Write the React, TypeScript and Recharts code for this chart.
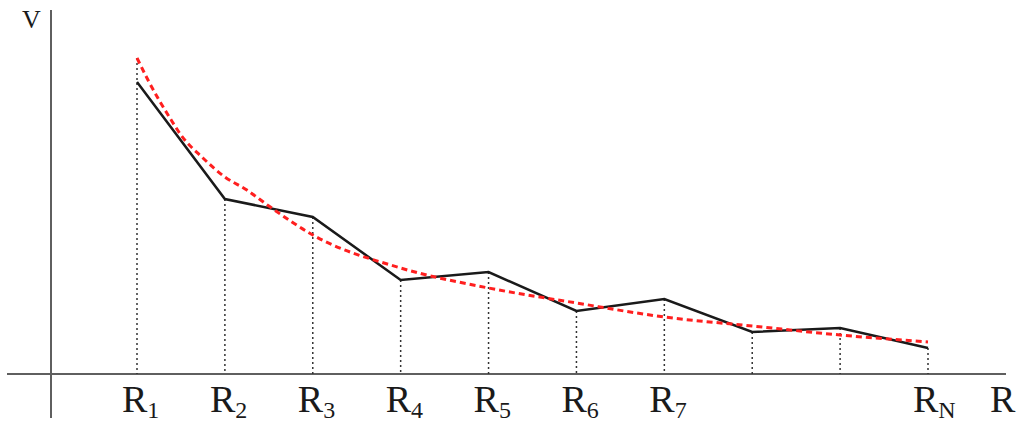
import { LineChart, Line, XAxis, YAxis, ReferenceLine } from 'recharts';

// sample positions along R (R1..R7, two unlabeled, RN)
const positions = [1, 2, 3, 4, 5, 6, 7, 8, 9, 10];
const subscripts = ['1', '2', '3', '4', '5', '6', '7', '', '', 'N'];
// measured V at each sample (black polyline)
const measured = [292, 175, 157, 94, 102, 63, 75, 42, 46, 26];
// top of each dotted drop line
const dropTops = [316, 175, 157, 94, 102, 63, 75, 42, 46, 26];
// smooth fitted curve (red dashed)
const fitR = [1, 1.125, 1.25, 1.375, 1.5, 1.75, 2, 2.25, 2.5, 3, 4, 5, 6, 7, 8, 9, 10];
const fitV = [316, 294, 274, 256, 239, 216, 197, 184, 168, 139, 106, 86, 71, 57, 48, 39, 32];

const measuredData = positions.map((r, i) => ({ r, v: measured[i] }));
const fitData = fitR.map((r, i) => ({ r, v: fitV[i] }));

const W = 1024;
const H = 432;
// 1 unit of R = ~87.9px, R1 sits at x=137
const pxPerR = 791 / 9;
const xDomain: [number, number] = [1 - 137 / pxPerR, 1 + (W - 137) / pxPerR];
const yDomain: [number, number] = [374 - H, 374];
const toR = (px: number) => 1 + (px - 137) / pxPerR;

const axisColor = '#5f5f5f';
const serif = "'Liberation Serif', 'Times New Roman', Times, serif";

const TickLabel = ({ viewBox, sub }: { viewBox?: any; sub: string }) => {
  if (!viewBox || !sub) return null;
  const x = viewBox.x;
  const y = viewBox.y + viewBox.height;
  return (
    <text x={x - 15} y={y + 38} style={{ fontFamily: serif }} fontSize={38} fill="#1a1a1a">
      <tspan>R</tspan>
      <tspan fontSize={24} dy={6}>{sub}</tspan>
    </text>
  );
};

export default function App() {
  return (
    <div style={{ position: 'absolute', left: 0, top: 0, width: W, height: H, background: '#fff' }}>
      <LineChart width={W} height={H} margin={{ top: 0, right: 0, bottom: 0, left: 0 }}>
        <XAxis type="number" dataKey="r" domain={xDomain} hide allowDataOverflow />
        <YAxis type="number" dataKey="v" domain={yDomain} hide allowDataOverflow />

        {/* axes */}
        <ReferenceLine
          segment={[{ x: toR(7), y: 0 }, { x: toR(1006), y: 0 }]}
          stroke={axisColor}
          strokeWidth={2}
          label={({ viewBox }: any) => (
            <text x={viewBox.x + viewBox.width - 16} y={viewBox.y + 38} style={{ fontFamily: serif }} fontSize={38} fill="#1a1a1a">
              R
            </text>
          )}
        />
        <ReferenceLine
          segment={[{ x: toR(51), y: -44 }, { x: toR(51), y: 364 }]}
          stroke={axisColor}
          strokeWidth={2}
          label={({ viewBox }: any) => (
            <text x={viewBox.x - 29} y={viewBox.y + 18} style={{ fontFamily: serif }} fontSize={26} fill="#1a1a1a">
              V
            </text>
          )}
        />

        {/* dotted drop lines with R labels */}
        {positions.map((r, i) => (
          <ReferenceLine
            key={`drop-${i}`}
            segment={[{ x: r, y: dropTops[i] }, { x: r, y: 0 }]}
            stroke="#333"
            strokeWidth={1.5}
            strokeDasharray="2 3"
            label={(props: any) => <TickLabel viewBox={props.viewBox} sub={subscripts[i]} />}
          />
        ))}

        <Line
          data={measuredData}
          dataKey="v"
          type="linear"
          stroke="#1a1a1a"
          strokeWidth={2.5}
          dot={false}
          activeDot={false}
          isAnimationActive={false}
        />
        <Line
          data={fitData}
          dataKey="v"
          type="monotone"
          stroke="#ff1f1f"
          strokeWidth={3}
          strokeDasharray="6 4"
          dot={false}
          activeDot={false}
          isAnimationActive={false}
        />
      </LineChart>
    </div>
  );
}
